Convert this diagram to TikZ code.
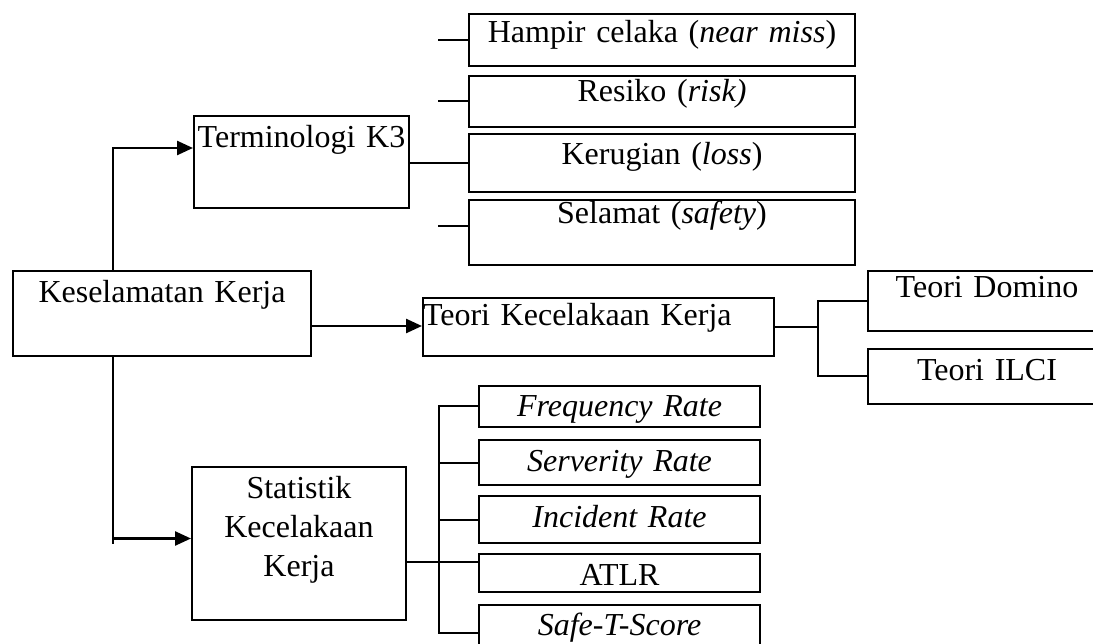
\documentclass[tikz,border=0pt]{standalone}
\usepackage{fontspec}
\setmainfont{Liberation Serif}
\usetikzlibrary{arrows.meta}

\begin{document}
\begin{tikzpicture}[
    x=1pt, y=-1pt,
    every node/.style={
    font=\fontsize{32}{39}\selectfont},
    kotak/.style={draw, line width=2pt, inner sep=0pt, anchor=north west, align=center},
    garis/.style={line width=2pt},
    panah/.style={line width=2.5pt, -{Triangle[length=16pt,width=14pt]}}]
    \useasboundingbox (0,0) rectangle (1093,644);
    \clip (0,0) rectangle (1093,644);

    \node[kotak, text width=298pt, text height=32pt, text depth=53pt] (kes) at (12,270) {Keselamatan Kerja};
    \node[kotak, text width=215pt, text height=32pt, text depth=60pt] (term) at (193,115) {Terminologi K3};
    \node[kotak, text width=351pt, text height=28pt, text depth=30pt, align=left] (teori) at (422,297) {Teori Kecelakaan Kerja};
    \node[kotak, text width=214pt, text height=31pt, text depth=122pt] (stat) at (191,466) {Statistik\\Kecelakaan\\Kerja};

    \node[kotak, text width=386pt, text height=29pt, text depth=23pt] (hampir) at (468,13) {Hampir celaka (\textit{near miss})};
    \node[kotak, text width=386pt, text height=26pt, text depth=25pt] (resiko) at (468,75) {Resiko (\textit{risk)}};
    \node[kotak, text width=386pt, text height=31pt, text depth=27pt] (rugi) at (468,133) {Kerugian (\textit{loss})};
    \node[kotak, text width=386pt, text height=24pt, text depth=41pt] (selamat) at (468,199) {Selamat (\textit{safety})};

    \node[kotak, text width=238pt, text height=27pt, text depth=33pt] (domino) at (867,270) {Teori Domino};
    \node[kotak, text width=238pt, text height=32pt, text depth=23pt] (ilci) at (867,348) {Teori ILCI};

    \node[kotak, text width=281pt, text height=31pt, text depth=10pt] (freq) at (478,385) {\textit{Frequency Rate}};
    \node[kotak, text width=281pt, text height=31pt, text depth=14pt] (serv) at (478,439) {\textit{Serverity Rate}};
    \node[kotak, text width=281pt, text height=31pt, text depth=16pt] (inc) at (478,495) {\textit{Incident Rate}};
    \node[kotak, text width=281pt, text height=31pt, text depth=7pt] (atlr) at (478,553) {ATLR};
    \node[kotak, text width=281pt, text height=30pt, text depth=26pt] (safe) at (478,604) {\textit{Safe-T-Score}};

    \coordinate (batang) at (113,0);
    \coordinate (cabang1) at (818,0);
    \coordinate (cabang2) at (439,562);

    \draw[panah] (kes.north -| batang) |- (term.base west);
    \draw[panah] (kes.east |- teori.base west) -- (teori.base west);
    \draw[garis] (kes.south -| batang) -- (stat.west -| batang);
    \draw[panah] ([yshift=5pt]stat.west -| batang) -- ([yshift=5pt]stat.west);

    \draw[garis] (term.east |- rugi.west) -- (rugi.west);
    \foreach \n in {hampir,resiko} \draw[garis] (\n.west) -- ++(-30,0);
    \draw[garis] ([yshift=6pt]selamat.west) -- ++(-30,0);

    \draw[garis] (teori.east) -- (teori.east -| cabang1);
    \draw[garis] (domino.west) -| (cabang1 |- ilci.west) -- (ilci.west);

    \draw[garis] (stat.east |- cabang2) -- (atlr.west |- cabang2);
    \draw[garis] (freq.west) -| (cabang2 |- safe.west) -- (safe.west);
    \foreach \n in {serv,inc} \draw[garis] (\n.west) -- (\n.west -| cabang2);
\end{tikzpicture}
\end{document}
